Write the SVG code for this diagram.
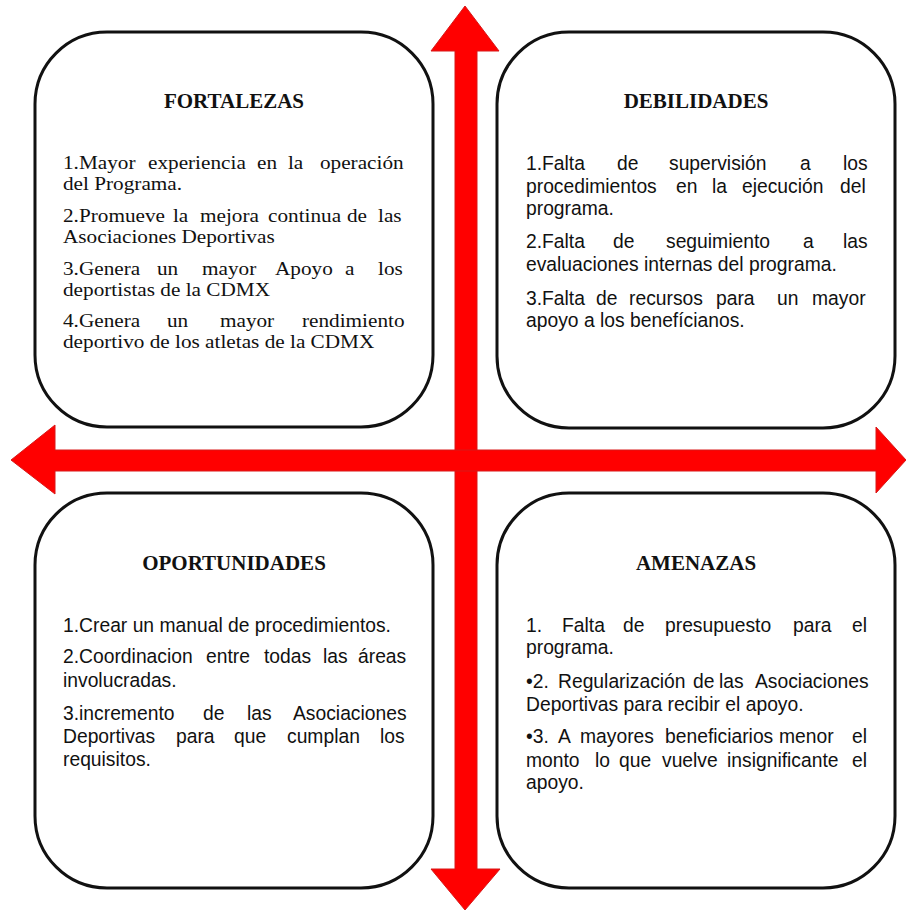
<svg xmlns="http://www.w3.org/2000/svg" width="906" height="911" viewBox="0 0 906 911">
<style>
.box{fill:#fff;stroke:#111;stroke-width:3}
.arrow{fill:#ff0000;stroke:#d81818;stroke-width:1}
.title{font-family:"Liberation Serif",serif;font-weight:bold;font-size:21px;fill:#111;text-anchor:middle}
.serif{font-family:"Liberation Serif",serif;font-size:18.8px;fill:#111}
.sans{font-family:"Liberation Sans",Arial,sans-serif;font-size:19.3px;fill:#111}
</style>
<rect width="906" height="911" fill="#fff"/>
<g id="connectors">
<polygon class="arrow" points="465,6 499,51 477,51 477,869 500,869 465,910 431,869 455,869 455,51 431,51"/>
<polygon class="arrow" points="11,460 55,425 55,450 876,450 876,427 906,460 876,493 876,471 55,471 55,494"/>
</g>
<g id="fortalezas">
<rect class="box" x="35" y="32" width="398" height="395" rx="72" ry="72"/>
<text class="title" x="234" y="108">FORTALEZAS</text>
<g transform="translate(63 0) scale(1.13 1)">
<text class="serif" y="169"><tspan x="0">1.Mayor</tspan><tspan x="75.2">experiencia</tspan><tspan x="171.7">en</tspan><tspan x="199.1">la</tspan><tspan x="227.4">operación</tspan></text>
<text class="serif" x="0" y="190">del Programa.</text>
<text class="serif" y="222"><tspan x="0">2.Promueve</tspan><tspan x="97.3">la</tspan><tspan x="121.2">mejora</tspan><tspan x="181.4">continua</tspan><tspan x="251.3">de</tspan><tspan x="278.8">las</tspan></text>
<text class="serif" x="0" y="243">Asociaciones Deportivas</text>
<text class="serif" y="275"><tspan x="0">3.Genera</tspan><tspan x="83.2">un</tspan><tspan x="123">mayor</tspan><tspan x="187.6">Apoyo</tspan><tspan x="249.6">a</tspan><tspan x="278.8">los</tspan></text>
<text class="serif" x="0" y="296">deportistas de la CDMX</text>
<text class="serif" y="327"><tspan x="0">4.Genera</tspan><tspan x="92">un</tspan><tspan x="138.9">mayor</tspan><tspan x="211.5">rendimiento</tspan></text>
<text class="serif" x="0" y="348">deportivo de los atletas de la CDMX</text>
</g>
</g>
<g id="debilidades">
<rect class="box" x="497" y="32" width="398" height="396" rx="72" ry="72"/>
<text class="title" x="696" y="108">DEBILIDADES</text>
<text class="sans" y="170"><tspan x="526">1.Falta</tspan><tspan x="617">de</tspan><tspan x="669">supervisión</tspan><tspan x="800">a</tspan><tspan x="843">los</tspan></text>
<text class="sans" y="193"><tspan x="526">procedimientos</tspan><tspan x="676">en</tspan><tspan x="712">la</tspan><tspan x="742">ejecución</tspan><tspan x="840">del</tspan></text>
<text class="sans" x="526" y="215">programa.</text>
<text class="sans" y="248"><tspan x="526">2.Falta</tspan><tspan x="613">de</tspan><tspan x="666">seguimiento</tspan><tspan x="803">a</tspan><tspan x="843">las</tspan></text>
<text class="sans" x="526" y="271">evaluaciones internas del programa.</text>
<text class="sans" y="305"><tspan x="526">3.Falta</tspan><tspan x="596">de</tspan><tspan x="629">recursos</tspan><tspan x="716">para</tspan><tspan x="777">un</tspan><tspan x="812">mayor</tspan></text>
<text class="sans" x="526" y="327">apoyo a los benefícianos.</text>
</g>
<g id="oportunidades">
<rect class="box" x="35" y="493" width="398" height="395" rx="72" ry="72"/>
<text class="title" x="234" y="570">OPORTUNIDADES</text>
<text class="sans" x="63" y="632">1.Crear un manual de procedimientos.</text>
<text class="sans" y="663"><tspan x="63">2.Coordinacion</tspan><tspan x="206">entre</tspan><tspan x="264">todas</tspan><tspan x="323">las</tspan><tspan x="358">áreas</tspan></text>
<text class="sans" x="63" y="687">involucradas.</text>
<text class="sans" y="720"><tspan x="63">3.incremento</tspan><tspan x="203">de</tspan><tspan x="247">las</tspan><tspan x="293">Asociaciones</tspan></text>
<text class="sans" y="743"><tspan x="63">Deportivas</tspan><tspan x="176">para</tspan><tspan x="234">que</tspan><tspan x="287">cumplan</tspan><tspan x="380">los</tspan></text>
<text class="sans" x="63" y="766">requisitos.</text>
</g>
<g id="amenazas">
<rect class="box" x="497" y="493" width="398" height="395" rx="72" ry="72"/>
<text class="title" x="696" y="570">AMENAZAS</text>
<text class="sans" y="632"><tspan x="526">1.</tspan><tspan x="562">Falta</tspan><tspan x="623">de</tspan><tspan x="665">presupuesto</tspan><tspan x="793">para</tspan><tspan x="852">el</tspan></text>
<text class="sans" x="526" y="654">programa.</text>
<text class="sans" y="688"><tspan x="526">•2.</tspan><tspan x="558">Regularización</tspan><tspan x="693">de</tspan><tspan x="719">las</tspan><tspan x="755">Asociaciones</tspan></text>
<text class="sans" x="526" y="711">Deportivas para recibir el apoyo.</text>
<text class="sans" y="743"><tspan x="526">•3.</tspan><tspan x="558">A</tspan><tspan x="580">mayores</tspan><tspan x="665">beneficiarios</tspan><tspan x="779">menor</tspan><tspan x="852">el</tspan></text>
<text class="sans" y="767"><tspan x="526">monto</tspan><tspan x="595">lo</tspan><tspan x="619">que</tspan><tspan x="662">vuelve</tspan><tspan x="727">insignificante</tspan><tspan x="852">el</tspan></text>
<text class="sans" x="526" y="789">apoyo.</text>
</g>
</svg>
